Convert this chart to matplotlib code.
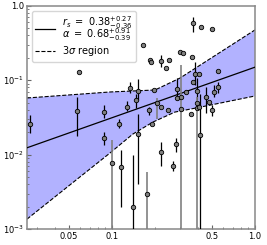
import numpy as np
import matplotlib
matplotlib.use("Agg")
import matplotlib.pyplot as plt
from matplotlib.ticker import LogLocator, NullFormatter

# sources: x, y and the lower / upper end of the error bar (nan = no bar)
nan = np.nan
x = [0.0267, 0.0569, 0.0588, 0.0879, 0.0879, 0.100, 0.112, 0.116, 0.127, 0.134,
     0.140, 0.147, 0.152, 0.152, 0.165, 0.176, 0.181, 0.184, 0.187, 0.190,
     0.197, 0.206, 0.220, 0.220, 0.220, 0.239, 0.246, 0.250, 0.267, 0.280,
     0.285, 0.285, 0.299, 0.314, 0.304, 0.304, 0.329, 0.357, 0.362, 0.368,
     0.368, 0.380, 0.393, 0.393, 0.393, 0.406, 0.406, 0.412, 0.419, 0.454,
     0.477, 0.500, 0.500, 0.517, 0.551, 0.551]
y = [0.0258, 0.0386, 0.129, 0.0374, 0.0167, 0.00771, 0.0258, 0.00681, 0.0437, 0.0788,
     0.00197, 0.0543, 0.0718, 0.0189, 0.299, 0.00295, 0.0398, 0.188, 0.176, 0.0258,
     0.0740, 0.0495, 0.182, 0.0437, 0.0108, 0.146, 0.0398, 0.188, 0.00703, 0.0139,
     0.0764, 0.0578, 0.240, 0.233, 0.0411, 0.0596, 0.0696, 0.0352, 0.206, 0.590,
     0.0948, 0.122, 0.0718, 0.0495, 0.0424, 0.122, 0.0437, 0.0184, 0.521, 0.0596,
     0.0511, 0.490, 0.0398, 0.0696, 0.133, 0.0813]
y_lo = [0.0195, 0.0178, nan, 0.0311, 0.0135, 1e-4, 0.0228, 0.00197, 0.0386, 0.0675,
        1e-4, 0.0424, 0.0543, 0.00402, nan, 1e-4, 0.0341, nan, nan, nan,
        nan, 0.0301, 0.151, nan, 0.00703, nan, nan, nan, 0.00601, 0.0108,
        0.0543, nan, nan, nan, 1e-4, nan, nan, nan, nan, 0.447,
        nan, 0.0865, 0.0543, nan, 1e-4, nan, nan, 1e-4, nan, 0.0363,
        nan, nan, 0.0331, 0.0596, nan, 0.0675]
y_hi = [0.0341, 0.0596, nan, 0.0465, 0.0201, 0.0157, 0.0301, 0.0115, 0.0527, 0.0948,
        0.00988, 0.0654, 0.104, 0.0352, nan, 0.00583, 0.0437, nan, nan, nan,
        nan, 0.0578, 0.219, nan, 0.0148, nan, nan, nan, 0.00820, 0.0167,
        0.107, nan, nan, nan, 0.161, nan, nan, nan, nan, 0.711,
        nan, 0.176, 0.107, nan, 0.0596, nan, nan, 0.0654, nan, 0.0813,
        nan, nan, 0.0465, 0.0865, nan, 0.0948]
bar_col = ['k', 'k', '', 'k', 'k', 'g', 'k', 'k', 'k', 'k',
           'k', 'k', 'k', 'k', '', 'g', 'k', '', '', '',
           '', 'g', 'k', '', 'k', '', '', '', 'k', 'k',
           'k', '', '', '', 'g', '', '', '', '', 'k',
           '', 'k', 'k', '', 'g', '', '', 'k', '', 'k',
           '', '', 'k', 'k', '', 'k']

# power-law fit y = norm * x**alpha
fit_norm = 0.15
fit_alpha = 0.68

# 3 sigma region edges
band_up_x = [0.0255, 0.0968, 0.200, 0.299, 1.0]
band_up_y = [0.0578, 0.0696, 0.0740, 0.107, 0.475]
band_lo_x = [0.0255, 0.0968, 0.140, 0.194, 0.276, 0.387, 1.0]
band_lo_y = [0.00136, 0.0105, 0.0189, 0.0275, 0.0374, 0.0424, 0.0615]

x = np.array(x)
y = np.array(y)
y_lo = np.array(y_lo)
y_hi = np.array(y_hi)
bar_col = np.array(bar_col)

fig = plt.figure(figsize=(2.67, 2.45), dpi=100)
ax = fig.add_axes([0.101, 0.065, 0.854, 0.911])
ax.set_xscale("log")
ax.set_yscale("log")
ax.set_xlim(0.0255, 1.0)
ax.set_ylim(1e-3, 1.0)

# band
poly_x = band_up_x + band_lo_x[::-1]
poly_y = band_up_y + band_lo_y[::-1]
ax.fill(poly_x, poly_y, color="blue", alpha=0.3, lw=0, zorder=1)
ax.plot(band_up_x, band_up_y, "k--", lw=0.8, zorder=2, label=r"$3\sigma$ region")
ax.plot(band_lo_x, band_lo_y, "k--", lw=0.8, zorder=2)

# fit line
xx = np.array([0.0255, 1.0])
ax.plot(xx, fit_norm * xx ** fit_alpha, "k-", lw=0.9, zorder=3,
        label="$r_s\\ =\\ 0.38^{+0.27}_{-0.36}$\n$\\alpha\\ =\\ 0.68^{+0.91}_{-0.39}$")

# error bars
for c, col, lw in [("k", "black", 0.9), ("g", "#808080", 1.2)]:
    m = bar_col == c
    ax.errorbar(x[m], y[m], yerr=[y[m] - y_lo[m], y_hi[m] - y[m]], fmt="none",
                ecolor=col, elinewidth=lw, capsize=0, zorder=4)

ax.plot(x, y, "o", ms=3.2, mfc="#808080", mec="black", mew=0.6, zorder=5)

ax.set_xticks([0.05, 0.1, 0.5, 1.0])
ax.set_xticklabels(["0.05", "0.1", "0.5", "1.0"])
ax.xaxis.set_minor_locator(LogLocator(base=10, subs=np.arange(2, 10)))
ax.xaxis.set_minor_formatter(NullFormatter())
ax.set_yticks([1e-3, 1e-2, 1e-1, 1.0])
ax.set_yticklabels(["$10^{-3}$", "$10^{-2}$", "$10^{-1}$", "1.0"])
ax.yaxis.set_minor_formatter(NullFormatter())
ax.tick_params(which="both", direction="in", labelsize=6, color="#666666", pad=2)
ax.tick_params(which="major", length=3)
ax.tick_params(which="minor", length=1.5)
for s in ax.spines.values():
    s.set_color("#888888")
    s.set_linewidth(1.1)

handles, labels = ax.get_legend_handles_labels()
leg = ax.legend(handles[::-1], labels[::-1], loc="upper left", fontsize=7,
                handlelength=2.0, borderpad=0.35, labelspacing=0.15)
leg.get_texts()[0].set_linespacing(0.6)

fig.savefig("out.png", dpi=100)
